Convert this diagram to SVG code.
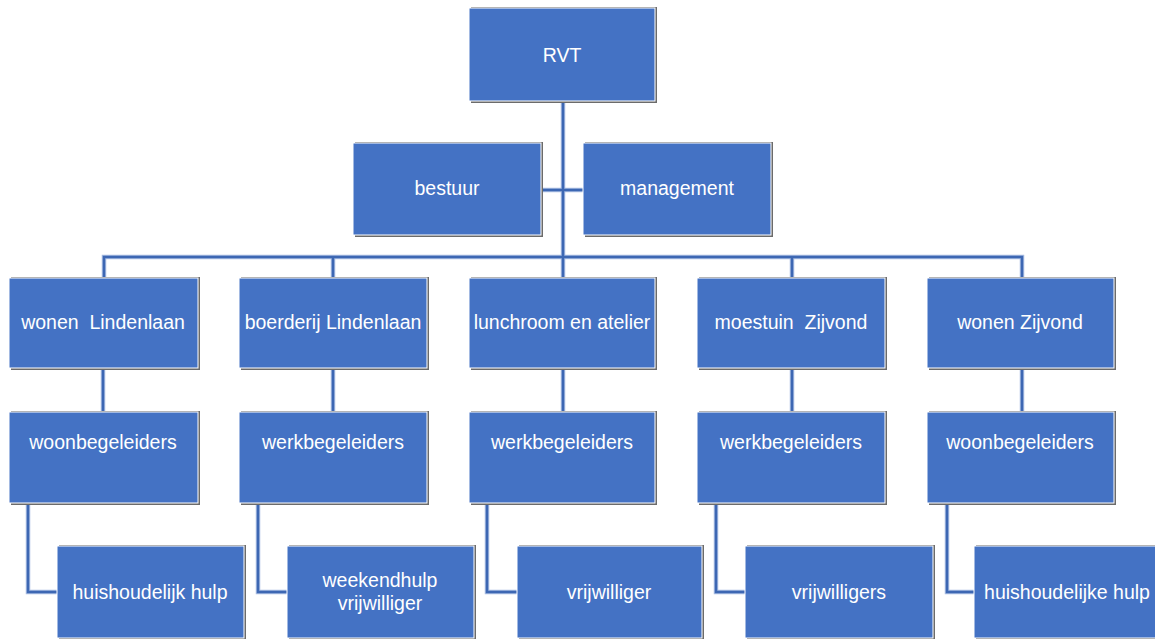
<svg xmlns="http://www.w3.org/2000/svg" width="1155" height="639" viewBox="0 0 1155 639">
<style>
.box{fill:#4472C4;stroke:#ffffff;stroke-width:1}
.sh{fill:#6b6b6b}
.t{fill:#ffffff;font-family:"Liberation Sans",Arial,sans-serif;font-size:19.5px;text-anchor:middle;white-space:pre}
.c{fill:none;stroke:#3d67b3;stroke-width:2.5}
.cl{fill:none;stroke:#a9bde2;stroke-width:4.5}
</style>
<rect width="1155" height="639" fill="#ffffff"/>
<g id="connectors">
<g class="cl">
<path d="M563,101 V278"/>
<path d="M541,190 H583"/>
<path d="M104,278 V257 H1022 V278"/>
<path d="M333,257 V278 M792,257 V278"/>
<path d="M103,368 V412 M333,368 V412 M563,368 V412 M792,368 V412 M1022,368 V412"/>
<path d="M28,503 V592 H57 M258,503 V592 H287 M487,503 V592 H517 M716,503 V592 H745 M947,503 V592 H974"/>
</g>
<g class="c">
<path d="M563,101 V278"/>
<path d="M541,190 H583"/>
<path d="M104,278 V257 H1022 V278"/>
<path d="M333,257 V278 M792,257 V278"/>
<path d="M103,368 V412 M333,368 V412 M563,368 V412 M792,368 V412 M1022,368 V412"/>
<path d="M28,503 V592 H57 M258,503 V592 H287 M487,503 V592 H517 M716,503 V592 H745 M947,503 V592 H974"/>
</g>
</g>
<g id="rvt"><rect class="sh" x="471" y="7" width="186" height="96"/><rect class="box" x="469" y="8" width="186" height="93"/><text class="t" x="562" y="62">RVT</text></g>
<g id="bestuur"><rect class="sh" x="355" y="142" width="188" height="95"/><rect class="box" x="353" y="143" width="188" height="92"/><text class="t" x="447" y="195">bestuur</text></g>
<g id="management"><rect class="sh" x="585" y="142" width="188" height="95"/><rect class="box" x="583" y="143" width="188" height="92"/><text class="t" x="677" y="195">management</text></g>

<g id="wonen-lindenlaan"><rect class="sh" x="11" y="277" width="189" height="93"/><rect class="box" x="9" y="278" width="189" height="90"/><text class="t" x="103" y="329" xml:space="preserve">wonen  Lindenlaan</text></g>
<g id="boerderij-lindenlaan"><rect class="sh" x="241" y="277" width="188" height="93"/><rect class="box" x="239" y="278" width="188" height="90"/><text class="t" x="333" y="329">boerderij Lindenlaan</text></g>
<g id="lunchroom"><rect class="sh" x="471" y="277" width="186" height="93"/><rect class="box" x="469" y="278" width="186" height="90"/><text class="t" x="562" y="329">lunchroom en atelier</text></g>
<g id="moestuin-zijvond"><rect class="sh" x="699" y="277" width="188" height="93"/><rect class="box" x="697" y="278" width="188" height="90"/><text class="t" x="791" y="329" xml:space="preserve">moestuin  Zijvond</text></g>
<g id="wonen-zijvond"><rect class="sh" x="929" y="277" width="187" height="93"/><rect class="box" x="927" y="278" width="187" height="90"/><text class="t" x="1020" y="329">wonen Zijvond</text></g>

<g id="woonbegeleiders-1"><rect class="sh" x="11" y="411" width="189" height="94"/><rect class="box" x="9" y="412" width="189" height="91"/><text class="t" x="103" y="449">woonbegeleiders</text></g>
<g id="werkbegeleiders-1"><rect class="sh" x="241" y="411" width="188" height="94"/><rect class="box" x="239" y="412" width="188" height="91"/><text class="t" x="333" y="449">werkbegeleiders</text></g>
<g id="werkbegeleiders-2"><rect class="sh" x="471" y="411" width="186" height="94"/><rect class="box" x="469" y="412" width="186" height="91"/><text class="t" x="562" y="449">werkbegeleiders</text></g>
<g id="werkbegeleiders-3"><rect class="sh" x="699" y="411" width="188" height="94"/><rect class="box" x="697" y="412" width="188" height="91"/><text class="t" x="791" y="449">werkbegeleiders</text></g>
<g id="woonbegeleiders-2"><rect class="sh" x="929" y="411" width="187" height="94"/><rect class="box" x="927" y="412" width="187" height="91"/><text class="t" x="1020" y="449">woonbegeleiders</text></g>

<g id="huishoudelijk-hulp"><rect class="sh" x="59" y="545" width="187" height="96"/><rect class="box" x="57" y="546" width="187" height="92"/><text class="t" x="150" y="599">huishoudelijk hulp</text></g>
<g id="weekendhulp"><rect class="sh" x="289" y="545" width="187" height="96"/><rect class="box" x="287" y="546" width="187" height="92"/><text class="t" x="380" y="587">weekendhulp</text><text class="t" x="380" y="610">vrijwilliger</text></g>
<g id="vrijwilliger"><rect class="sh" x="519" y="545" width="185" height="96"/><rect class="box" x="517" y="546" width="185" height="92"/><text class="t" x="609" y="599">vrijwilliger</text></g>
<g id="vrijwilligers"><rect class="sh" x="747" y="545" width="188" height="96"/><rect class="box" x="745" y="546" width="188" height="92"/><text class="t" x="839" y="599">vrijwilligers</text></g>
<g id="huishoudelijke-hulp"><rect class="sh" x="976" y="545" width="188" height="96"/><rect class="box" x="974" y="546" width="188" height="92"/><text class="t" x="1067" y="599">huishoudelijke hulp</text></g>
</svg>
